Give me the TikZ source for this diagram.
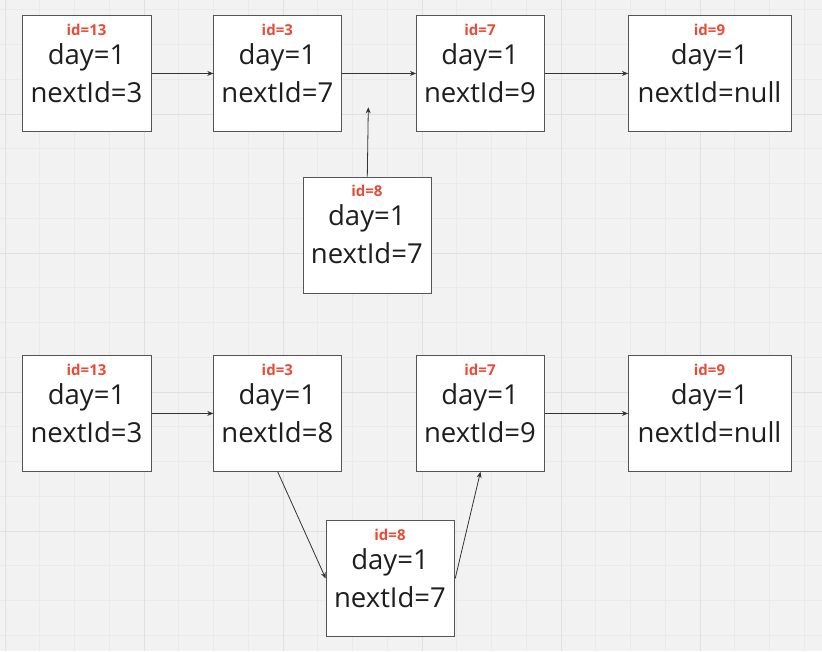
\documentclass[tikz,border=0pt]{standalone}
\usepackage{fontspec}
\setmainfont{Open Sans}
\usetikzlibrary{arrows.meta}
\definecolor{bgc}{HTML}{F2F2F2}
\definecolor{gridminor}{HTML}{EAEAEA}
\definecolor{gridmajor}{HTML}{E0E0E0}
\definecolor{idred}{HTML}{E84B36}
\definecolor{boxline}{HTML}{555555}
\definecolor{txt}{HTML}{1E1E1E}
\definecolor{arr}{HTML}{333333}
\tikzset{
  cellbox/.style={draw=boxline, fill=white, line width=0.9pt, minimum height=116pt, inner sep=0pt, anchor=north west},
  idlab/.style={text=idred, font=\fontsize{15}{15}\selectfont\bfseries, anchor=base, inner sep=0pt},
  vallab/.style={text=txt, font=\fontsize{27.5}{27.5}\selectfont, anchor=base, inner sep=0pt},
  link/.style={draw=arr, line width=0.8pt, -{Stealth[length=6pt,width=5pt]}},
  gminor/.style={draw=gridminor, line width=0.8pt},
  gmajor/.style={draw=gridmajor, line width=1pt},
}
\newcommand\mkcell[6]{% name, x, y, width, id, next
  \node[cellbox, minimum width=#4pt] (#1) at (#2,#3) {};
  \node[idlab] (#1-id) at ({#2+#4/2},{#3+20}) {id=#5};
  \node[vallab] (#1-day) at ({#2+#4/2},{#3+49}) {day=1};
  \node[vallab] (#1-next) at ({#2+#4/2},{#3+87}) {nextId=#6};
}
\begin{document}
\begin{tikzpicture}[x=1pt,y=-1pt]
\fill[bgc] (0,0) rectangle (822,651);
\useasboundingbox (0,0) rectangle (822,651);
\foreach \i in {-1,...,23} \draw[gminor] ({5+34.75*\i},0) -- ({5+34.75*\i},651);
\foreach \i in {1,...,19} \draw[gminor] (0,{-25+34.75*\i}) -- (822,{-25+34.75*\i});
\foreach \i in {0,...,5} \draw[gmajor] ({5+139*\i},0) -- ({5+139*\i},651);
\foreach \i in {1,...,4} \draw[gmajor] (0,{-25+139*\i}) -- (822,{-25+139*\i});
% top row
\mkcell{a1}{22.3}{15}{128.4}{13}{3}
\mkcell{a2}{213.3}{15}{128}{3}{7}
\mkcell{a3}{416}{15}{128}{7}{9}
\mkcell{a4}{628}{15}{163}{9}{null}
\mkcell{a8}{302.7}{176.7}{128.3}{8}{7}
\coordinate (a8tip) at (368.3,107.3);
\draw[link] (a1.east) -- (a2.west);
\draw[link] (a2.east) -- (a3.west);
\draw[link] (a3.east) -- (a4.west);
\draw[link] (a8.north) -- (a8tip);
% bottom row
\mkcell{b1}{22.3}{355}{128.4}{13}{3}
\mkcell{b2}{213.3}{355}{128}{3}{8}
\mkcell{b3}{416}{355}{128}{7}{9}
\mkcell{b4}{628}{355}{163}{9}{null}
\mkcell{b8}{325.7}{520}{128.6}{8}{7}
\draw[link] (b1.east) -- (b2.west);
\draw[link] (b3.east) -- (b4.west);
\draw[link] (b2.south) -- (b8.west);
\draw[link] (b8.east) -- (b3.south);
\end{tikzpicture}
\end{document}
